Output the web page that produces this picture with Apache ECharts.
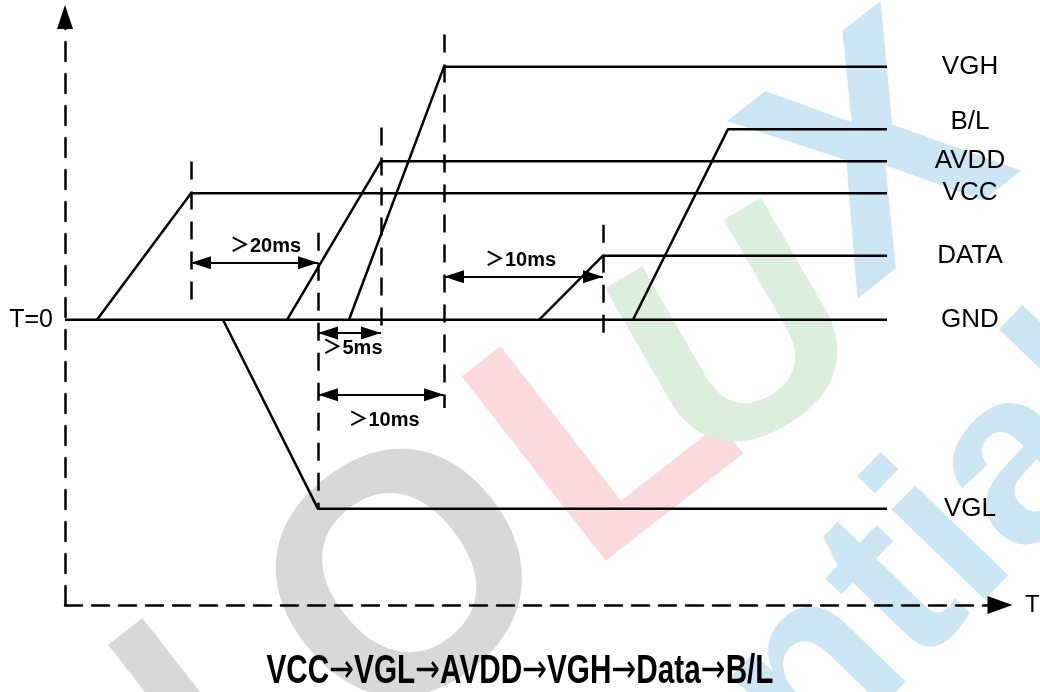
<!DOCTYPE html>
<html>
<head>
<meta charset="utf-8">
<title>Power on sequence</title>
<script src="https://cdn.jsdelivr.net/npm/echarts@6/dist/echarts.min.js"></script>
<style>
html, body { margin: 0; padding: 0; background: #fff; }
#main { width: 1040px; height: 692px; }
</style>
</head>
<body>
<div id="main"></div>
<script>
// rails: level (GND = 0), time the ramp starts and ends
var rails      = ['VGH', 'B/L', 'AVDD', 'VCC', 'DATA', 'GND', 'VGL'];
var railLevel  = [7.9, 5.95, 4.95, 3.95, 2.0, 0, -5.9];
var rampStart  = [28.4, 56.8, 22.2, 3.2, 47.4, 0, 15.8];
var rampEnd    = [37.9, 66.3, 31.6, 12.6, 53.8, 0, 25.3];
var tEnd = 82.2;

// dashed reference marks
var markT    = [12.6, 25.3, 31.6, 37.9, 53.8];
var markTop  = [4.94, 2.72, 6.0, 8.9, 2.97];
var markBot  = [0.31, -5.9, -0.56, -2.75, -0.63];

// timing gaps
var gapText  = ['＞20ms', '＞5ms', '＞10ms', '＞10ms'];
var gapFrom  = [12.6, 25.3, 25.3, 37.9];
var gapTo    = [25.3, 31.6, 37.9, 53.8];
var gapLevel = [1.78, -0.41, -2.34, 1.34];
var gapBelow = [false, true, true, false];

var sequence = 'VCC→VGL→AVDD→VGH→Data→B/L';

var FONT = "'Liberation Sans', Arial, 'Noto Sans CJK SC', sans-serif";

var chart = echarts.init(document.getElementById('main'));

var series = [];
for (var i = 0; i < rails.length; i++) {
	var pts;
	if (rails[i] == 'GND') {
		pts = [[0, 0], [tEnd, 0]];
	} else {
		pts = [[rampStart[i], 0], [rampEnd[i], railLevel[i]], [tEnd, railLevel[i]]];
	}
	series.push({
		name: rails[i],
		type: 'line',
		data: pts,
		showSymbol: false,
		symbol: 'none',
		lineStyle: { color: '#000', width: 2.5 },
		z: 3,
		endLabel: {
			show: true,
			formatter: '{a}',
			align: 'center',
			distance: 83,
			offset: rails[i] == 'B/L' ? [0, -7] : [0, 0],
			fontSize: 26,
			color: '#000',
			fontFamily: FONT
		}
	});
}

var marks = [];
for (var j = 0; j < markT.length; j++) {
	marks.push([{ coord: [markT[j], markTop[j]] }, { coord: [markT[j], markBot[j]] }]);
}
series.push({
	type: 'line',
	data: [],
	markLine: {
		silent: true,
		animation: false,
		symbol: 'none',
		label: { show: false },
		lineStyle: { color: '#000', width: 2.5, type: [18, 12] },
		data: marks
	}
});

// small nudges so the texts sit like in the drawing
var gapNudge = [[11, 0, 6], [3, 0, 6], [3, 0, 16], [-3, 0, 6]];
var gaps = [];
for (var k = 0; k < gapText.length; k++) {
	gaps.push([{
		coord: [gapFrom[k], gapLevel[k]],
		label: {
			show: true,
			formatter: gapText[k],
			position: gapBelow[k] ? 'insideMiddleBottom' : 'middle',
			distance: gapNudge[k][2],
			offset: [gapNudge[k][0], gapNudge[k][1]],
			fontSize: 20,
			fontWeight: 'bold',
			color: '#000',
			fontFamily: FONT
		}
	}, { coord: [gapTo[k], gapLevel[k]] }]);
}
series.push({
	type: 'line',
	data: [],
	markLine: {
		silent: true,
		animation: false,
		symbol: ['triangle', 'triangle'],
		symbolSize: [13, 20],
		symbolOffset: [[0, '50%'], [0, '50%']],
		lineStyle: { color: '#000', width: 1.8, type: 'solid' },
		data: gaps
	}
});

// faint company watermark behind the drawing
function mark(ch, x, y, rot, size, color) {
	return {
		type: 'text', x: x, y: y, rotation: rot * Math.PI / 180, silent: true, z: -10,
		style: { text: ch, font: 'bold ' + size + 'px Liberation Sans', fill: color, align: 'center', verticalAlign: 'middle' }
	};
}
var grey = '#d8d8d8', pink = '#fadadd', green = '#dcefdc', blue = '#cde6f4';
var watermark = [
	mark('N', 150, 790, 38, 340, grey),
	mark('O', 414, 591, 38, 340, grey),
	mark('L', 612, 437, 38, 340, pink),
	mark('U', 745, 350, 30, 300, green),
	mark('X', 885, 165, 38, 320, blue),
	mark('Confidential', 622, 878, 46, 245, blue)
];

var option = {
	animation: false,
	backgroundColor: '#fff',
	graphic: watermark.concat([{
		type: 'text',
		x: 520,
		y: 672,
		scaleX: 0.743,
		silent: true,
		style: {
			text: sequence.replace(/→/g, '{a|→}'),
			font: 'bold 40px Liberation Sans',
			fill: '#000',
			align: 'center',
			verticalAlign: 'middle',
			rich: { a: { fontFamily: 'DejaVu Sans', fontWeight: 'normal', fontSize: 40, fill: '#000' } }
		}
	}]),
	grid: { left: 65, right: 40, top: 17, bottom: 87, outerBoundsMode: 'none' },
	xAxis: {
		type: 'value',
		min: 0,
		max: 93.5,
		name: 'T',
		nameLocation: 'end',
		nameGap: 25,
		nameTextStyle: { fontSize: 24, color: '#000', fontFamily: FONT, verticalAlign: 'middle' },
		axisLine: {
			show: true,
			onZero: false,
			symbol: ['none', 'triangle'],
			symbolSize: [18, 25],
			lineStyle: { color: '#000', width: 2.5, type: [17, 10] }
		},
		axisTick: { show: false },
		axisLabel: { show: false },
		splitLine: { show: false }
	},
	yAxis: {
		type: 'value',
		min: -8.9,
		max: 9.45,
		axisLine: {
			show: true,
			symbol: ['none', 'triangle'],
			symbolSize: [16, 24],
			lineStyle: { color: '#000', width: 2.5, type: [19, 13] }
		},
		axisTick: { show: false },
		axisLabel: {
			show: true,
			customValues: [0],
			formatter: function () { return 'T=0'; },
			margin: 12,
			fontSize: 25,
			color: '#000',
			fontFamily: FONT
		},
		splitLine: { show: false }
	},
	series: series
};

chart.setOption(option);
</script>
</body>
</html>
